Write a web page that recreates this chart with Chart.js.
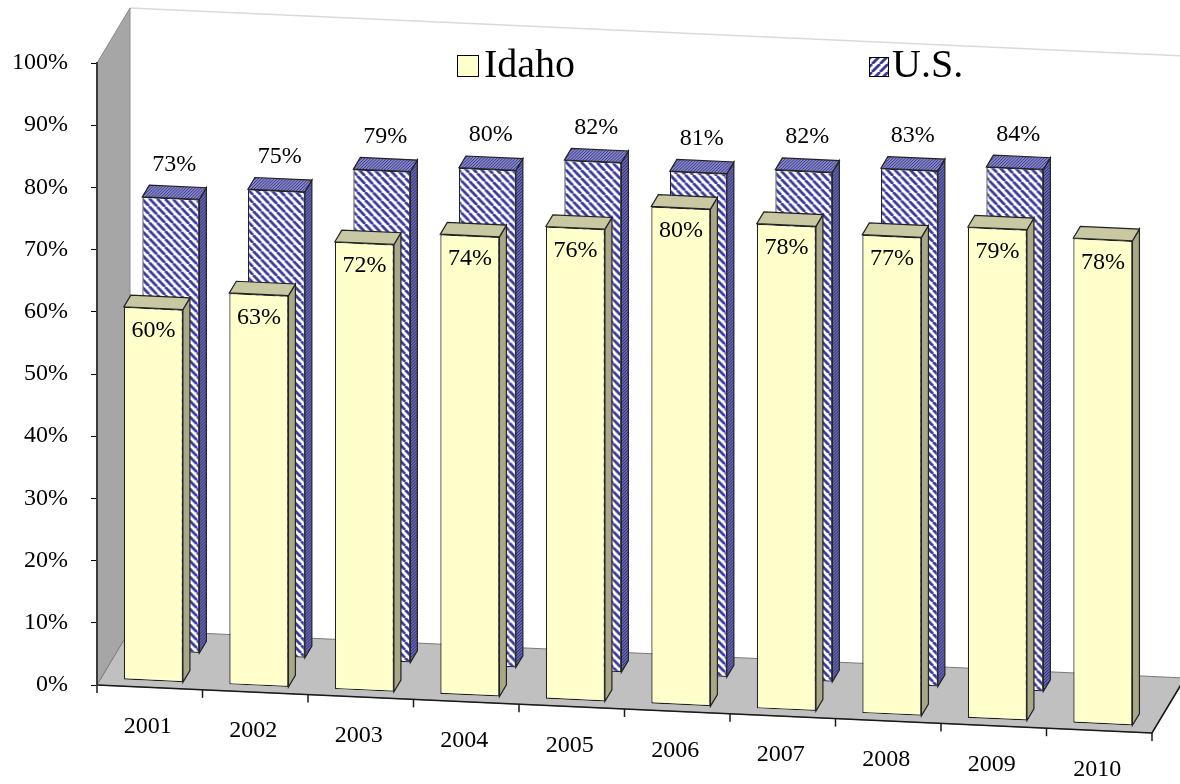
<!DOCTYPE html>
<html>
<head>
<meta charset="utf-8">
<script src="https://cdn.jsdelivr.net/npm/chart.js@4.4.1/dist/chart.umd.min.js"></script>
<style>
  html, body { margin: 0; padding: 0; background: #fff; }
  #wrap { width: 1180px; height: 784px; }
</style>
</head>
<body>
<div id="wrap"><canvas id="rateChart" width="1180" height="784"></canvas></div>
<script>
// ===== Idaho vs U.S. rate chart (fake 3D) =====

const years = ['2001', '2002', '2003', '2004', '2005', '2006', '2007', '2008', '2009', '2010'];
const idahoRates = [60, 63, 72, 74, 76, 80, 78, 77, 79, 78];
const usRates = [73, 75, 79, 80, 82, 81, 82, 83, 84, null];
const yTicks = [0, 10, 20, 30, 40, 50, 60, 70, 80, 90, 100];

// view setup: slant of the floor, depth of the box and of each row
const SLANT = 0.0455;
const DEPTH = { x: 33, y: -55 };
const BOX = { x: 7, y: -12 };
const ROW_T = [0.11, 0.64];
const SERIF = '"Liberation Serif", "Times New Roman", serif';

const canvas = document.getElementById('rateChart');
const mainCtx = canvas.getContext('2d');

function hatch(dir) {
  const s = 8;
  const c = document.createElement('canvas');
  c.width = s; c.height = s;
  const g = c.getContext('2d');
  g.fillStyle = '#ffffff'; g.fillRect(0, 0, s, s);
  g.strokeStyle = '#3a3a9e'; g.lineWidth = 2.8;
  for (let k = -1; k <= 1; k++) {
    g.beginPath();
    if (dir > 0) { g.moveTo(k * s, 0); g.lineTo(k * s + s, s); }
    else { g.moveTo(k * s, s); g.lineTo(k * s + s, 0); }
    g.stroke();
  }
  return mainCtx.createPattern(c, 'repeat');
}

function dots(base, dot) {
  const c = document.createElement('canvas');
  c.width = 3; c.height = 3;
  const g = c.getContext('2d');
  g.fillStyle = base; g.fillRect(0, 0, 3, 3);
  g.fillStyle = dot; g.fillRect(0, 0, 1, 1); g.fillRect(2, 1, 1, 1); g.fillRect(1, 2, 1, 1);
  return mainCtx.createPattern(c, 'repeat');
}

function project(x, y, t, x0) {
  return { x: x + t * DEPTH.x, y: y + SLANT * (x - x0) + t * DEPTH.y };
}

function poly(ctx, pts) {
  ctx.beginPath();
  pts.forEach((p, i) => i ? ctx.lineTo(p.x, p.y) : ctx.moveTo(p.x, p.y));
  ctx.closePath();
}

const fake3d = {
  id: 'fake3d',
  beforeDraw(chart) {
    const ctx = chart.ctx, ys = chart.scales.y, xs = chart.scales.x;
    const L = xs.left, R = xs.right, T = ys.getPixelForValue(100), B = ys.getPixelForValue(0);
    const P = (x, y, t) => project(x, y, t, L);
    ctx.save();
    // back wall
    poly(ctx, [P(L, T, 1), P(R, T, 1), P(R, B, 1), P(L, B, 1)]);
    ctx.fillStyle = '#ffffff'; ctx.fill();
    ctx.beginPath(); ctx.moveTo(P(L, T, 1).x, P(L, T, 1).y); ctx.lineTo(P(R, T, 1).x, P(R, T, 1).y);
    ctx.strokeStyle = '#dadada'; ctx.lineWidth = 1.5; ctx.stroke();
    // left wall
    poly(ctx, [P(L, T, 0), P(L, T, 1), P(L, B, 1), P(L, B, 0)]);
    ctx.fillStyle = '#a6a6a6'; ctx.fill();
    ctx.strokeStyle = '#8a8a8a'; ctx.lineWidth = 1; ctx.stroke();
    // floor
    poly(ctx, [P(L, B, 0), P(R, B, 0), P(R, B, 1), P(L, B, 1)]);
    ctx.fillStyle = '#c0c0c0'; ctx.fill();
    ctx.strokeStyle = '#7a7a7a'; ctx.lineWidth = 1; ctx.stroke();
    ctx.beginPath();
    ctx.moveTo(P(L, B, 0).x, P(L, B, 0).y); ctx.lineTo(P(R, B, 0).x, P(R, B, 0).y); ctx.lineTo(P(R, B, 1).x, P(R, B, 1).y);
    ctx.strokeStyle = '#1a1a1a'; ctx.lineWidth = 1.6; ctx.stroke();
    // category ticks
    const n = years.length;
    ctx.lineWidth = 1.5;
    for (let i = 0; i <= n; i++) {
      const p = P(L + i * (R - L) / n, B, 0);
      ctx.beginPath(); ctx.moveTo(p.x, p.y); ctx.lineTo(p.x, p.y + 8); ctx.stroke();
    }
    ctx.restore();
  },
  beforeDatasetDraw(chart, args) {
    const t = ROW_T[args.index];
    const ctx = chart.ctx, x0 = chart.chartArea.left;
    ctx.save();
    ctx.transform(1, SLANT, 0, 1, t * DEPTH.x, t * DEPTH.y - SLANT * x0);
  },
  afterDatasetDraw(chart, args) {
    const ctx = chart.ctx;
    const ds = chart.data.datasets[args.index];
    ctx.strokeStyle = '#222'; ctx.lineWidth = 1.2;
    args.meta.data.forEach((bar, i) => {
      if (ds.data[i] == null) return;
      const { x, y, base, width } = bar.getProps(['x', 'y', 'base', 'width'], true);
      const l = x - width / 2, r = x + width / 2;
      poly(ctx, [{ x: r, y: y }, { x: r + BOX.x, y: y + BOX.y }, { x: r + BOX.x, y: base + BOX.y }, { x: r, y: base }]);
      ctx.fillStyle = ds.sideColor; ctx.fill(); ctx.stroke();
      poly(ctx, [{ x: l, y: y }, { x: l + BOX.x, y: y + BOX.y }, { x: r + BOX.x, y: y + BOX.y }, { x: r, y: y }]);
      ctx.fillStyle = ds.topColor; ctx.fill(); ctx.stroke();
    });
    ctx.restore();
  },
  afterDraw(chart) {
    const ctx = chart.ctx, xs = chart.scales.x, ys = chart.scales.y;
    const L = xs.left, B = ys.getPixelForValue(0);
    ctx.save();
    ctx.fillStyle = '#000';
    ctx.textAlign = 'center'; ctx.textBaseline = 'middle';
    ctx.font = '24px ' + SERIF;
    // x labels along the slanted floor edge
    years.forEach((yr, i) => {
      const p = project(xs.getPixelForValue(i), B, 0, L);
      ctx.fillText(yr, p.x - 2, p.y + 39);
    });
    // value labels
    chart.data.datasets.forEach((ds, di) => {
      const t = ROW_T[di];
      chart.getDatasetMeta(di).data.forEach((bar, i) => {
        const v = ds.data[i];
        if (v == null) return;
        if (di === 0) {
          const p = project(bar.x, bar.y, t, L);
          ctx.fillText(v + '%', p.x, p.y + 23);
        } else {
          const p = project(bar.x + BOX.x / 2, bar.y + BOX.y, t, L);
          ctx.fillText(v + '%', p.x, p.y - 22);
        }
      });
    });
    // legend
    ctx.font = '40px ' + SERIF;
    ctx.textAlign = 'left'; ctx.textBaseline = 'alphabetic';
    ctx.lineWidth = 1; ctx.strokeStyle = '#000';
    ctx.fillStyle = '#ffffcc'; ctx.fillRect(457, 55, 21, 21); ctx.strokeRect(457.5, 55.5, 21, 21);
    ctx.fillStyle = '#000'; ctx.fillText(chart.data.datasets[0].label, 484, 77);
    ctx.fillStyle = hatch(-1); ctx.fillRect(869, 57, 19, 19); ctx.strokeRect(869.5, 57.5, 19, 19);
    ctx.fillStyle = '#000'; ctx.fillText(chart.data.datasets[1].label, 892, 77);
    ctx.restore();
  }
};

new Chart(canvas, {
  type: 'bar',
  data: {
    labels: years,
    datasets: [
      { label: 'Idaho', data: idahoRates, backgroundColor: '#ffffcc', borderColor: '#222', borderWidth: 1.2, borderSkipped: false,
        barPercentage: 0.56, categoryPercentage: 1, grouped: false, clip: false, topColor: '#c8c8a2', sideColor: '#a8a886' },
      { label: 'U.S.', data: usRates, backgroundColor: hatch(1), borderColor: '#222', borderWidth: 1.2, borderSkipped: false,
        barPercentage: 0.54, categoryPercentage: 1, grouped: false, clip: false,
        topColor: dots('#8c8cc6', '#2e2e8c'), sideColor: dots('#6c6cb0', '#24247a') }
    ]
  },
  options: {
    responsive: false, animation: false, devicePixelRatio: 1,
    layout: { padding: { left: 0, top: 63, right: 28, bottom: 99 } },
    plugins: { legend: { display: false }, tooltip: { enabled: false } },
    scales: {
      x: { display: false },
      y: {
        min: 0, max: 100,
        afterFit: s => { s.width = 97; },
        afterBuildTicks: s => { s.ticks = yTicks.map(v => ({ value: v })); },
        ticks: { callback: v => v + '%', color: '#000', padding: 23, font: { family: SERIF, size: 24 } },
        grid: { drawOnChartArea: false, drawTicks: true, tickLength: 6, color: '#000' },
        border: { display: true, color: '#3a3a3a', width: 2 }
      }
    }
  },
  plugins: [fake3d]
});
</script>
</body>
</html>
